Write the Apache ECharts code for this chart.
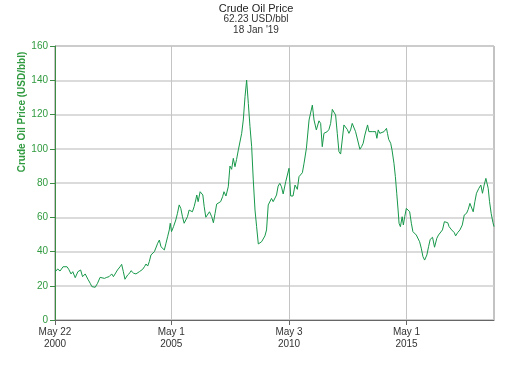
<!DOCTYPE html>
<html>
<head>
<meta charset="utf-8">
<script src="https://cdn.jsdelivr.net/npm/echarts@6/dist/echarts.min.js"></script>
<style>html,body{margin:0;padding:0;background:#fff}#c{width:512px;height:366px}</style>
</head>
<body>
<div id="c"></div>
<script>
var titleText = 'Crude Oil Price';
var subText = "62.23 USD/bbl\n18 Jan '19";
var yAxisName = 'Crude Oil Price (USD/bbl)';
var xStart = '2000-05-22';
var xEnd = '2019-01-18';
var tickDates = ['2000-05-22', '2005-05-01', '2010-05-03', '2015-05-01'];
var tickLabels = ['May 22\n2000', 'May 1\n2005', 'May 3\n2010', 'May 1\n2015'];

var dates = [
'2000-05-27','2000-07-03','2000-08-08','2000-09-24','2000-10-20','2000-11-25','2000-12-21',
'2001-01-26','2001-02-22','2001-04-01','2001-05-12','2001-06-24','2001-07-24','2001-09-03','2001-10-15','2001-11-20','2001-12-15',
'2002-01-11','2002-02-05','2002-03-13','2002-04-22','2002-05-19','2002-06-29','2002-08-03','2002-09-08','2002-10-20','2002-11-15','2002-12-10',
'2003-01-17','2003-02-26','2003-03-23','2003-04-18','2003-05-13','2003-06-24','2003-07-30','2003-08-15','2003-09-25','2003-10-31','2003-12-22',
'2004-02-12','2004-03-10','2004-04-04','2004-04-30','2004-05-25','2004-06-20','2004-07-16','2004-08-12','2004-09-06','2004-10-02','2004-10-28','2004-11-22',
'2005-01-13','2005-02-08','2005-03-05','2005-03-31','2005-04-15','2005-05-05','2005-06-05','2005-07-10','2005-08-05','2005-09-01','2005-09-26','2005-10-22','2005-11-17','2005-12-12',
'2006-01-07','2006-02-02','2006-02-28','2006-03-25','2006-04-21','2006-05-16','2006-06-01','2006-06-22','2006-07-23','2006-08-13','2006-09-03','2006-09-24','2006-10-19','2006-11-13','2006-12-15',
'2007-01-19','2007-02-14','2007-03-12','2007-04-06','2007-05-01','2007-06-06','2007-07-07','2007-07-28','2007-08-28','2007-10-03','2007-10-29','2007-11-24','2007-12-20',
'2008-01-15','2008-02-09','2008-03-07','2008-04-02','2008-04-28','2008-05-23','2008-06-19','2008-07-14','2008-08-09','2008-09-04','2008-09-30','2008-10-25','2008-11-21','2008-12-16',
'2009-01-11','2009-02-06','2009-03-03','2009-03-29','2009-04-24','2009-05-19','2009-06-14','2009-07-10','2009-08-04','2009-08-30','2009-09-25','2009-10-21','2009-11-15','2009-12-11',
'2010-01-06','2010-02-01','2010-03-13','2010-05-03','2010-05-29','2010-07-04','2010-08-04','2010-09-09','2010-10-05','2010-11-26','2010-12-22',
'2011-01-28','2011-03-10','2011-04-04','2011-04-30','2011-05-26','2011-07-01','2011-08-11','2011-09-06','2011-10-01','2011-10-27','2011-11-22','2011-12-18',
'2012-01-13','2012-02-08','2012-03-05','2012-03-30','2012-04-25','2012-05-21','2012-06-16','2012-07-12','2012-08-06','2012-09-01','2012-09-27','2012-10-23','2012-11-18','2012-12-14',
'2013-01-08','2013-02-03','2013-03-01','2013-03-26','2013-05-07','2013-06-02','2013-06-27','2013-07-23','2013-09-03','2013-09-24','2013-10-25','2013-11-14','2013-12-14',
'2014-01-05','2014-01-26','2014-02-16','2014-03-12','2014-04-07','2014-05-17','2014-06-24','2014-07-09','2014-07-28','2014-08-28','2014-09-18','2014-10-18','2014-11-09','2014-11-30','2014-12-21',
'2015-01-05','2015-01-26','2015-02-22','2015-03-13','2015-04-03','2015-04-28','2015-05-24','2015-06-19','2015-07-15','2015-08-08','2015-09-04','2015-09-30','2015-10-25','2015-11-20','2015-12-16',
'2016-01-11','2016-02-06','2016-03-12','2016-04-07','2016-05-03','2016-06-08','2016-07-09','2016-08-13','2016-09-08','2016-10-04','2016-11-09','2016-12-09','2016-12-29',
'2017-01-30','2017-02-20','2017-04-01','2017-05-12','2017-06-01','2017-07-02','2017-08-07','2017-09-13','2017-10-13','2017-11-18','2017-12-14',
'2018-01-09','2018-02-03','2018-03-01','2018-03-27','2018-04-21','2018-05-28','2018-06-28','2018-07-23','2018-08-18','2018-09-14','2018-10-20','2018-11-10','2018-12-05','2019-01-01',
'2019-01-18'
];
var prices = [
28.2,29.8,28.6,31.1,30.2,31.1,29.6,
26.9,28.2,24.7,28.2,29.2,25.3,26.9,23.8,21.4,19.5,
20.4,19.1,21.4,24.9,25.7,24.3,24.9,25.3,26.9,25.3,24.9,
29.2,31.1,32.5,28.2,23.8,26.3,27.6,28.8,27.3,26.9,28.2,
29.6,31.1,32.7,31.5,34.1,38,37,39.9,40.9,44.8,46.7,42.8,
40.9,44.8,48.6,52.6,56.5,51.6,54.5,58.4,62.3,67.2,65.2,60.3,56.5,55.5,
60.3,64.2,65.2,63.2,66.2,70.1,73,69.1,74.9,75.9,73,66.2,60,59.4,63.2,
60.3,56.8,62.3,67.7,67.2,69.1,72,74.9,72.4,77.8,89.9,88,94.4,
89.5,93.8,99.3,100.3,109,116.8,130.4,140.1,126.5,112.9,101.2,81.8,64.2,54.5,
44.4,45.1,45.7,46.7,49.1,52.6,67.2,68.1,71,69.1,68.5,73,78.2,79.8,
77.8,73.6,80.8,88.6,72.4,72.4,78.8,76.3,83.7,86,91.5,
100.3,116.8,117.8,125.5,116.8,111,116.3,114.8,101.2,109,108.4,110,
111.3,114.8,123,122.2,119.7,109,98.3,96.9,105.1,113.9,112.9,111.3,109,111,
114.8,113.9,110,109,99.7,101.2,103.2,108,113.9,110,109,110,109,
110,106.1,111,109,108,110,111.9,109,105.5,103.2,99.3,91.5,83.7,74,64.2,
56.5,54.5,60.3,55.5,60.3,65.2,65.8,63.2,56.5,51.6,51,49.6,49.1,45.7,41.9,
37,35,38,42.8,47.1,48.3,42.5,47.7,49.6,49.1,52.6,57.4,56.5,
56.8,54.5,52.6,51,49.1,51,52.6,55.5,61.3,62.3,64.6,
68.1,69.1,63.2,69.1,74,76.9,78.8,74,78.8,82.7,76.9,69.1,62.3,57,
54.5
];

function toTime(d) { return Date.UTC(+d.slice(0, 4), +d.slice(5, 7) - 1, +d.slice(8, 10)); }
var seriesData = dates.map(function (d, i) { return [toTime(d), prices[i]]; });
var tickTimes = tickDates.map(toTime);
function labelFor(v) {
  var best = 0, bd = Infinity;
  for (var i = 0; i < tickTimes.length; i++) {
    var dd = Math.abs(tickTimes[i] - v);
    if (dd < bd) { bd = dd; best = i; }
  }
  return tickLabels[best];
}

var chart = echarts.init(document.getElementById('c'), null, {renderer: 'canvas'});
var font = 'Liberation Sans, Arial, sans-serif';
chart.setOption({
  animation: false,
  backgroundColor: '#fff',
  textStyle: {fontFamily: font},
  title: {
    text: titleText,
    subtext: subText,
    left: 'center',
    top: 3,
    padding: 0,
    itemGap: 0,
    textStyle: {fontSize: 11, color: '#222', fontWeight: 'normal', fontFamily: font, lineHeight: 11},
    subtextStyle: {fontSize: 10, color: '#333', fontFamily: font, lineHeight: 11}
  },
  grid: {left: 55, right: 18, top: 46, bottom: 46, show: true, borderColor: '#888', borderWidth: 1, containLabel: false},
  xAxis: {
    type: 'value',
    min: toTime(xStart),
    max: toTime(xEnd),
    axisLine: {show: true, onZero: false, lineStyle: {color: '#666', width: 1}},
    axisTick: {show: true, customValues: tickTimes, length: 5, lineStyle: {color: '#666'}},
    axisLabel: {customValues: tickTimes, formatter: function (v) { return labelFor(v); }, color: '#333', fontSize: 10, fontFamily: font, lineHeight: 12, margin: 6, showMinLabel: true, showMaxLabel: true},
    splitLine: {show: true, lineStyle: {color: '#c4c4c4', width: 1}}
  },
  yAxis: {
    type: 'value',
    min: 0, max: 160, interval: 20,
    axisLine: {show: true, lineStyle: {color: '#3c8c46', width: 1}},
    axisTick: {show: true, length: 5, lineStyle: {color: '#3c8c46'}},
    axisLabel: {color: '#2f9a3f', fontSize: 10, fontFamily: font, margin: 7},
    splitLine: {show: true, lineStyle: {color: '#cfcfcf', width: 1.5}}
  },
  graphic: [{
    type: 'text',
    x: 22, y: 112,
    rotation: Math.PI / 2,
    style: {text: yAxisName, fill: '#2f9a3f', font: 'bold 10px ' + font, textAlign: 'center', textVerticalAlign: 'middle'}
  }],
  series: [{
    type: 'line',
    data: seriesData,
    showSymbol: false,
    symbol: 'none',
    lineStyle: {color: '#17984a', width: 1},
    z: 5
  }]
});
</script>
</body>
</html>
